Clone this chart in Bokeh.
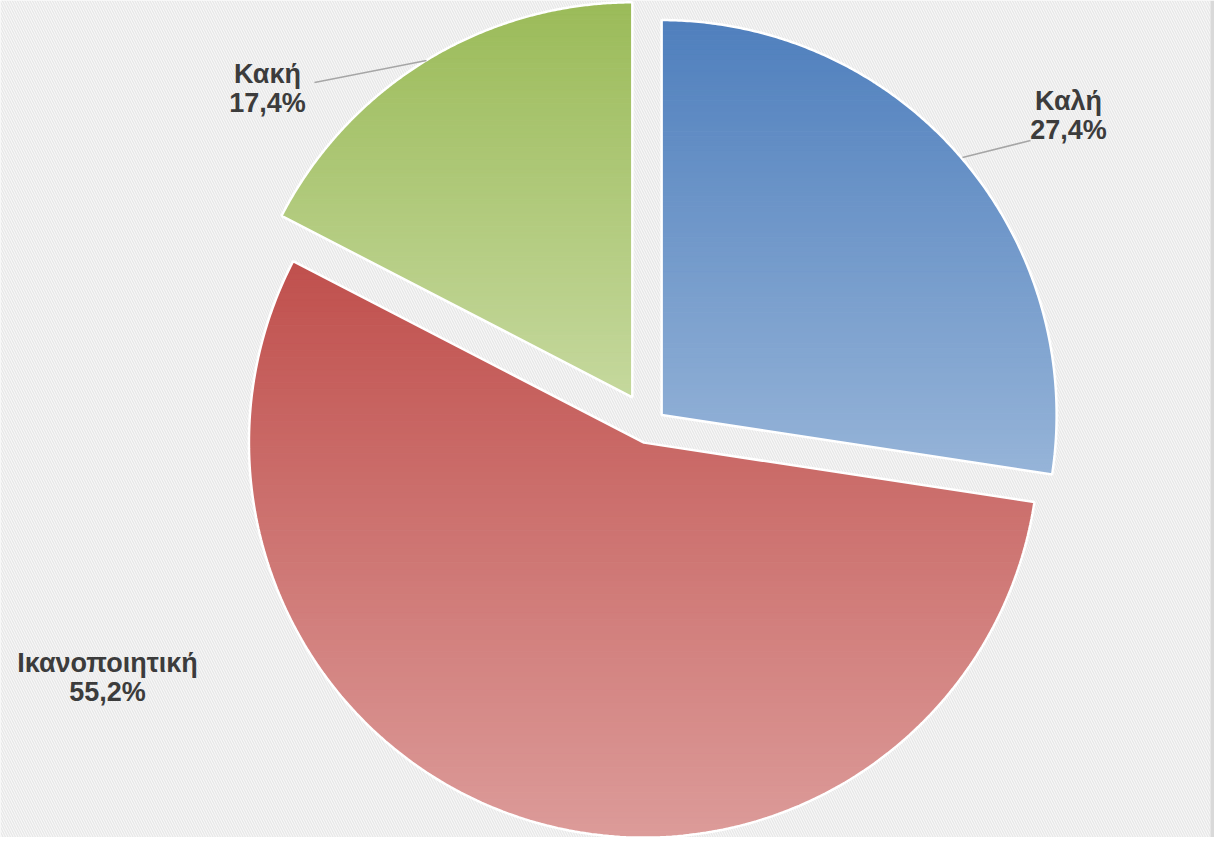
import numpy as np
from bokeh.plotting import figure
from bokeh.models import Range1d
from bokeh.core.properties import value
from bokeh.embed import file_html
from bokeh.resources import INLINE

# ---- data ----
categories = ["Καλή", "Ικανοποιητική", "Κακή"]
shares = [27.4, 55.2, 17.4]
top_colors = ["#4f7fbd", "#c0504d", "#9bbb59"]
bottom_colors = ["#96b4d8", "#dc9b99", "#c5d89d"]

# ---- layout ----
W, H = 1214, 837
CX, CY, R = 649.0, 425.0, 395.0
explode = [16.0, 18.0, 33.0]
label_pos = [(1068, 100), (107, 662), (267, 73)]
lead_from = [(962, 157), None, (314, 82)]
lead_to = [(1030, 140), None, (426, 60)]

p = figure(width=W, height=H, output_backend="svg", toolbar_location=None,
           x_axis_type=None, y_axis_type=None,
           x_range=Range1d(0, W), y_range=Range1d(H, 0),
           min_border=0, outline_line_color=None)
p.background_fill_color = "#f7f7f7"
p.border_fill_color = "#f7f7f7"

# patterned background
p.quad(left=[0], right=[1210], top=[0], bottom=[H], fill_color="#f8f8f8",
       line_color=None, hatch_pattern="\\", hatch_color="#e8e8e8",
       hatch_scale=5, hatch_weight=1.3)
p.quad(left=[1210], right=[W], top=[0], bottom=[H], fill_color="#d9d9d9", line_color=None)


def hex2rgb(h):
    h = h.lstrip("#")
    return np.array([int(h[i:i + 2], 16) for i in (0, 2, 4)], dtype=float)


def rgb2hex(c):
    return "#%02x%02x%02x" % tuple(int(round(v)) for v in c)


def clip(poly, y0, y1):
    def clip_half(pts, keep, inter):
        out = []
        n = len(pts)
        for i in range(n):
            a = pts[i]
            b = pts[(i + 1) % n]
            ka, kb = keep(a), keep(b)
            if ka:
                out.append(a)
            if ka != kb:
                out.append(inter(a, b))
        return out

    def iy(yv):
        def f(a, b):
            t = (yv - a[1]) / (b[1] - a[1])
            return (a[0] + t * (b[0] - a[0]), yv)
        return f

    pts = clip_half(poly, lambda q: q[1] >= y0, iy(y0))
    if not pts:
        return pts
    pts = clip_half(pts, lambda q: q[1] <= y1, iy(y1))
    return pts


total = sum(shares)
start = 90.0
wedges = []
# clockwise from top
for i, s in enumerate(shares):
    sweep = s / total * 360.0
    a0 = start
    a1 = start - sweep
    mid = np.radians((a0 + a1) / 2)
    ax = CX + explode[i] * np.cos(mid)
    ay = CY - explode[i] * np.sin(mid)
    angs = np.radians(np.linspace(a0, a1, 240))
    poly = [(ax, ay)] + [(ax + R * np.cos(t), ay - R * np.sin(t)) for t in angs]
    wedges.append(poly)
    start = a1

for i, poly in enumerate(wedges):
    ys = [q[1] for q in poly]
    ymin, ymax = min(ys), max(ys)
    n = 90
    edges = np.linspace(ymin, ymax, n + 1)
    c0, c1 = hex2rgb(top_colors[i]), hex2rgb(bottom_colors[i])
    xs_list, ys_list, cols = [], [], []
    for k in range(n):
        band = clip(poly, edges[k], edges[k + 1])
        if len(band) < 3:
            continue
        xs_list.append([q[0] for q in band])
        ys_list.append([q[1] for q in band])
        t = (k + 0.5) / n
        cols.append(rgb2hex(c0 + (c1 - c0) * t))
    p.patches(xs_list, ys_list, fill_color=cols, line_color=cols, line_width=1)
    p.patch([q[0] for q in poly], [q[1] for q in poly], fill_color=None,
            line_color="white", line_width=2.5)

# leader lines
for i in range(len(categories)):
    if lead_from[i] is None:
        continue
    (sx, sy), (tx, ty) = lead_from[i], lead_to[i]
    p.line([sx, tx], [sy, ty], line_color="#a6a6a6", line_width=1.5)

# labels
for i, cat in enumerate(categories):
    lx, ly = label_pos[i]
    pct = f"{shares[i]:.1f}".replace(".", ",") + "%"
    p.text(x=[lx], y=[ly], text=[cat], text_align="center", text_baseline="middle",
           text_font=value("Liberation Sans"), text_font_style="bold",
           text_font_size="27px", text_color="#3c3c3c")
    p.text(x=[lx], y=[ly + 29], text=[pct], text_align="center", text_baseline="middle",
           text_font=value("Liberation Sans"), text_font_style="bold",
           text_font_size="27px", text_color="#3c3c3c")

open("out.html", "w").write(file_html(p, INLINE))
